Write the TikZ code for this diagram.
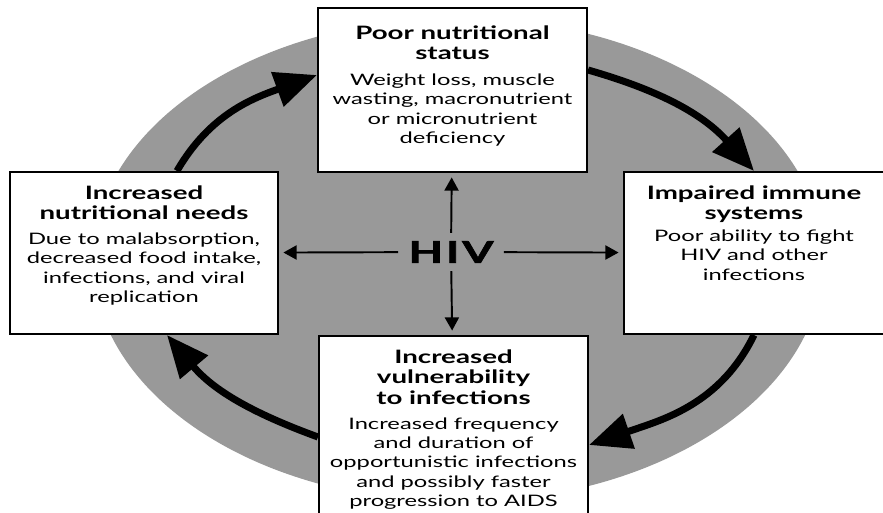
\documentclass[tikz,border=0pt]{standalone}
\usepackage{fontspec}
\setmainfont{Lato}[FakeStretch=1.5]
\newfontfamily\hivfont{Lato}[FakeStretch=1.5,FakeBold=2.5,LetterSpace=10]
\usetikzlibrary{arrows.meta}
\usetikzlibrary{positioning}

\definecolor{ringgray}{RGB}{153,153,153}

\tikzset{
  box/.style={draw, line width=1.2pt, fill=white, inner sep=0pt},
  boxhead/.style={align=center, inner sep=0pt, font=\fontsize{10.5}{11.9}\selectfont\bfseries},
  boxbody/.style={align=center, inner sep=0pt, font=\fontsize{9}{11}\selectfont},
  cycle/.style={line width=4pt, -{Triangle[length=24pt,width=20pt]}},
  hivtext/.style={inner xsep=0.2cm, inner ysep=0.16cm, font=\hivfont\fontsize{17}{17}\selectfont\bfseries},
  hivarrow/.style={line width=1.1pt, -{Triangle[length=7.5pt,width=8pt]}, shorten >=2.5pt},
}

\begin{document}
\begin{tikzpicture}[x=0.02cm,y=0.02cm]
    \clip (0,0) rectangle (883,-513);
    \fill[ringgray] (458,-260) ellipse [x radius=365, y radius=242];

    \node[box, minimum width=5.38cm, minimum height=3.28cm] (top) at (452.5,-90) {};
    \node[box, minimum width=5.36cm, minimum height=3.24cm] (lft) at (144,-253) {};
    \node[box, minimum width=5.2cm, minimum height=3.24cm] (rgt) at (754,-253) {};
    \node[box, minimum width=5.38cm, minimum height=3.6cm] (bot) at (453.5,-426) {};

    \node[boxhead, below=0.36cm of top.north] (toph) {Poor nutritional\\status};
    \node[boxbody, below=0.26cm of toph] (topb) {Weight loss, muscle\\wasting, macronutrient\\or micronutrient\\deficiency};

    \node[boxhead, below=0.28cm of lft.north] (lfth) {Increased\\nutritional needs};
    \node[boxbody, below=0.24cm of lfth] (lftb) {Due to malabsorption,\\decreased food intake,\\infections, and viral\\replication};

    \node[boxhead, below=0.28cm of rgt.north] (rgth) {Impaired immune\\systems};
    \node[boxbody, below=0.12cm of rgth] (rgtb) {Poor ability to fight\\HIV and other\\infections};

    \node[boxhead, below=0.28cm of bot.north] (both) {Increased\\vulnerability\\to infections};
    \node[boxbody, below=0.24cm of both] (botb) {Increased frequency\\and duration of\\opportunistic infections\\and possibly faster\\progression to AIDS};

    \draw[cycle] ([xshift=0.66cm]lft.north) to[out=60,in=200] ([yshift=0.3cm]top.west);
    \draw[cycle] ([yshift=0.4cm]top.east) to[out=-16,in=132] (rgt.north);
    \draw[cycle] (rgt.south) to[out=244,in=19] ([yshift=-0.38cm]bot.east);
    \draw[cycle] ([yshift=-0.22cm]bot.west) to[out=160,in=-50] ([xshift=0.46cm]lft.south);

    \node[hivtext] (hiv) at (451,-252) {HIV};
    \draw[hivarrow] (hiv) -- (top);
    \draw[hivarrow] (hiv) -- (rgt);
    \draw[hivarrow] (hiv) -- (bot);
    \draw[hivarrow] (hiv) -- (lft);
\end{tikzpicture}
\end{document}
